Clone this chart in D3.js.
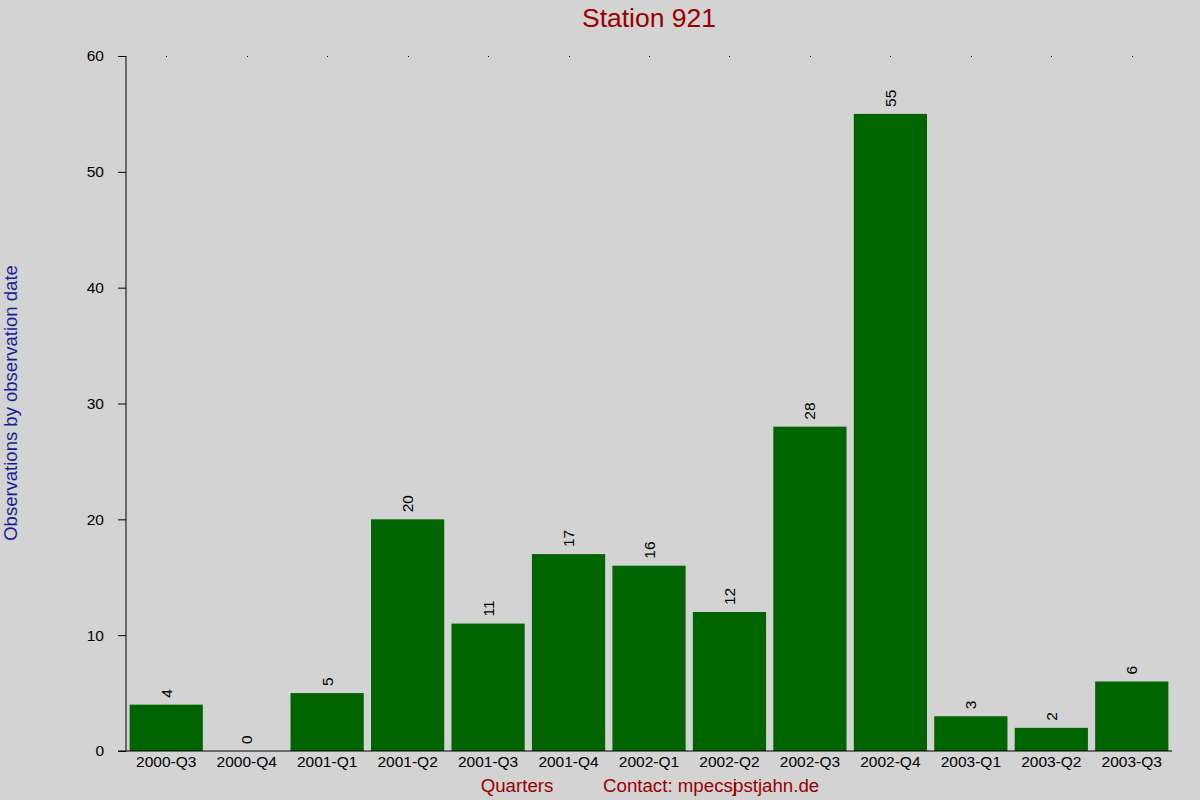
<!DOCTYPE html>
<html>
<head>
<meta charset="utf-8">
<script src="https://cdn.jsdelivr.net/npm/d3@7"></script>
<style>
  body { margin: 0; background: #d3d3d3; }
  svg { display: block; font-family: "Liberation Sans", Arial, sans-serif; }
</style>
</head>
<body>
<div class="chart"></div>
<script>
const quarters = ["2000-Q3","2000-Q4","2001-Q1","2001-Q2","2001-Q3","2001-Q4","2002-Q1",
                  "2002-Q2","2002-Q3","2002-Q4","2003-Q1","2003-Q2","2003-Q3"];
const counts = [4, 0, 5, 20, 11, 17, 16, 12, 28, 55, 3, 2, 6];
const yTicks = [0, 10, 20, 30, 40, 50, 60];

const width = 1200;
const height = 800;
const plotLeft = 126, plotRight = 1172, plotTop = 56, plotBottom = 751;
const font = "Liberation Sans, Arial, sans-serif";

const svg = d3.select(".chart")
  .append("svg")
  .attr("width", width)
  .attr("height", height);

svg.append("rect")
  .attr("width", width)
  .attr("height", height)
  .attr("fill", "#d3d3d3");

const xScale = d3.scaleBand()
  .domain(quarters)
  .range([plotLeft, plotRight])
  .paddingInner(0.09)
  .paddingOuter(0.045);

const yScale = d3.scaleLinear()
  .domain([0, 60])
  .range([plotBottom, plotTop]);

// bars
svg.selectAll(".bar")
  .data(counts)
  .enter()
  .append("rect")
  .attr("class", "bar")
  .attr("fill", "#006400")
  .attr("x", (d, i) => xScale(quarters[i]))
  .attr("y", d => yScale(d))
  .attr("width", xScale.bandwidth())
  .attr("height", d => plotBottom - yScale(d));

// value labels, rotated
svg.selectAll(".val")
  .data(counts)
  .enter()
  .append("text")
  .attr("class", "val")
  .attr("transform", (d, i) => {
    const cx = xScale(quarters[i]) + xScale.bandwidth() / 2 + 5.5;
    return "translate(" + cx + "," + (yScale(d) - 7) + ") rotate(-90)";
  })
  .attr("font-size", 15.5)
  .attr("fill", "#000")
  .text(d => d);

// y axis
const yAxis = d3.axisLeft(yScale)
  .tickValues(yTicks)
  .tickSize(8)
  .tickPadding(14);

svg.append("g")
  .attr("id", "y-axis")
  .attr("transform", "translate(" + plotLeft + ",0)")
  .call(yAxis)
  .call(g => g.select(".domain").remove())
  .call(g => g.selectAll("text").attr("font-size", 15.5).attr("font-family", font).attr("fill", "#000"))
  .call(g => g.selectAll("line").attr("stroke", "#000"));

svg.append("line")
  .attr("x1", plotLeft).attr("x2", plotLeft)
  .attr("y1", plotTop).attr("y2", plotBottom)
  .attr("stroke", "#000");

// x axis
const xAxis = d3.axisBottom(xScale)
  .tickSize(0)
  .tickPadding(5);

svg.append("g")
  .attr("id", "x-axis")
  .attr("transform", "translate(0," + plotBottom + ")")
  .call(xAxis)
  .call(g => g.select(".domain").remove())
  .call(g => g.selectAll("text").attr("font-size", 15.5).attr("font-family", font).attr("fill", "#000"));

svg.append("line")
  .attr("x1", plotLeft - 8).attr("x2", plotRight)
  .attr("y1", plotBottom).attr("y2", plotBottom)
  .attr("stroke", "#000");

// little dots along the top at band centres
svg.selectAll(".dot")
  .data(quarters)
  .enter()
  .append("rect")
  .attr("class", "dot")
  .attr("x", d => Math.round(xScale(d) + xScale.bandwidth() / 2))
  .attr("y", plotTop)
  .attr("width", 1)
  .attr("height", 1)
  .attr("fill", "#000");

// title
svg.append("text")
  .attr("x", 649)
  .attr("y", 27)
  .attr("text-anchor", "middle")
  .attr("font-size", 26.5)
  .attr("fill", "#990000")
  .text("Station 921");

// y label
svg.append("text")
  .attr("transform", "translate(17,403) rotate(-90)")
  .attr("text-anchor", "middle")
  .attr("font-size", 18.5)
  .attr("fill", "#1a1a99")
  .text("Observations by observation date");

// bottom labels
svg.append("text")
  .attr("x", 517)
  .attr("y", 792)
  .attr("text-anchor", "middle")
  .attr("font-size", 18.7)
  .attr("fill", "#990000")
  .text("Quarters");

const contact = svg.append("text")
  .attr("x", 603)
  .attr("y", 792)
  .attr("font-size", 18.7)
  .attr("fill", "#990000");
contact.append("tspan").text("Contact: mpecs");
contact.append("tspan").text("j");
contact.append("tspan").attr("dx", -4).text("pstjahn.de");
</script>
</body>
</html>
